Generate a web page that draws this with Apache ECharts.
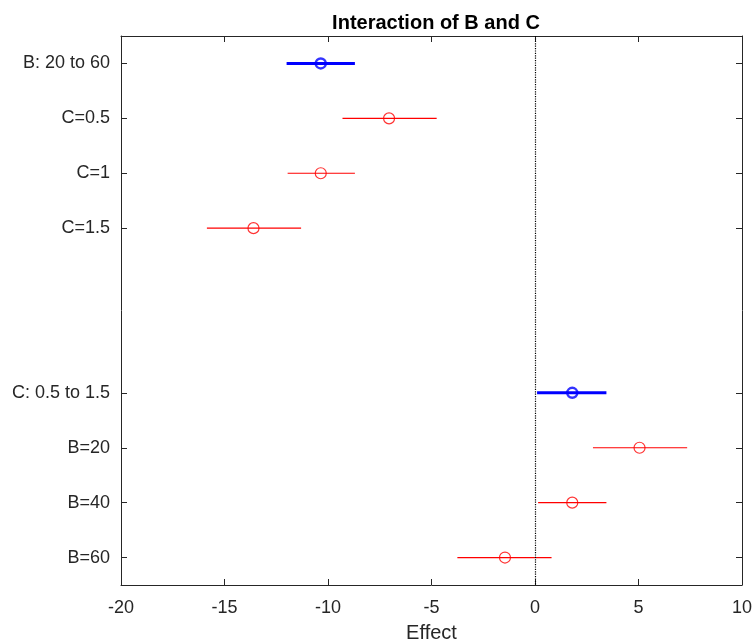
<!DOCTYPE html>
<html>
<head>
<meta charset="utf-8">
<script src="https://cdn.jsdelivr.net/npm/echarts@6/dist/echarts.min.js"></script>
<style>
  html, body { margin: 0; padding: 0; background: #fff; }
  #chart { width: 754px; height: 641px; }
</style>
</head>
<body>
<div id="chart"></div>
<script>
// Row labels, top to bottom (two blank spacer rows between the groups)
const rowLabels = ['B: 20 to 60', 'C=0.5', 'C=1', 'C=1.5', '', '', 'C: 0.5 to 1.5', 'B=20', 'B=40', 'B=60'];
// Row index of each estimate
const rowIndex = [0, 1, 2, 3, 6, 7, 8, 9];
// Point estimates of the effect
const effect = [-10.35, -7.05, -10.35, -13.6, 1.8, 5.05, 1.8, -1.45];
// Interval bounds
const lower = [-12.0, -9.3, -11.95, -15.85, 0.1, 2.8, 0.15, -3.75];
const upper = [-8.7, -4.75, -8.7, -11.3, 3.45, 7.35, 3.45, 0.8];
// Main effects (thick blue) vs. conditional effects (thin red)
const isMain = [true, false, false, false, true, false, false, false];

const xTicks = { min: -20, max: 10, interval: 5 };

const axisColor = '#262626';
const font = 'Liberation Sans, Arial, Helvetica, sans-serif';

const mainBars = [], condBars = [], mainPts = [], condPts = [];
rowIndex.forEach((r, i) => {
  const bar = [lower[i], upper[i], r];
  const pt = [effect[i], r];
  if (isMain[i]) { mainBars.push(bar); mainPts.push(pt); }
  else { condBars.push(bar); condPts.push(pt); }
});

function intervalRenderer(color, width) {
  return function (params, api) {
    const a = api.coord([api.value(0), api.value(2)]);
    const b = api.coord([api.value(1), api.value(2)]);
    return {
      type: 'line',
      shape: { x1: a[0], y1: a[1], x2: b[0], y2: b[1] },
      style: { stroke: color, lineWidth: width }
    };
  };
}

const tickFilter = (idx, val) => val !== '';

const chart = echarts.init(document.getElementById('chart'), null, { renderer: 'canvas' });
chart.setOption({
  animation: false,
  backgroundColor: '#ffffff',
  title: {
    text: 'Interaction of B and C',
    left: 431, top: 8, textAlign: 'center',
    textStyle: { fontFamily: font, fontSize: 20, fontWeight: 'bold', color: '#000' }
  },
  grid: { left: 121, right: 12, top: 36, bottom: 56, containLabel: false, outerBoundsMode: 'none' },
  xAxis: [{
    type: 'value', min: xTicks.min, max: xTicks.max, interval: xTicks.interval,
    name: 'Effect', nameLocation: 'middle', nameGap: 38,
    nameTextStyle: { fontFamily: font, fontSize: 20, color: axisColor },
    axisLine: { show: true, onZero: false, lineStyle: { color: axisColor, width: 1 } },
    axisTick: { show: true, inside: true, length: 6, lineStyle: { color: axisColor } },
    axisLabel: { fontFamily: font, fontSize: 18, color: axisColor, margin: 14 },
    splitLine: { show: false }
  }, {
    type: 'value', position: 'top', min: xTicks.min, max: xTicks.max, interval: xTicks.interval,
    axisLine: { show: true, onZero: false, lineStyle: { color: axisColor, width: 1 } },
    axisTick: { show: true, inside: true, length: 6, lineStyle: { color: axisColor } },
    axisLabel: { show: false }, splitLine: { show: false }
  }],
  yAxis: [{
    type: 'category', data: rowLabels, inverse: true,
    axisLine: { show: true, onZero: false, lineStyle: { color: axisColor, width: 1 } },
    axisTick: { show: true, inside: true, length: 6, alignWithLabel: true, interval: tickFilter, lineStyle: { color: axisColor } },
    axisLabel: { fontFamily: font, fontSize: 18, color: axisColor, margin: 11, interval: 0 },
    splitLine: { show: false }
  }, {
    type: 'category', data: rowLabels, inverse: true, position: 'right',
    axisLine: { show: true, onZero: false, lineStyle: { color: axisColor, width: 1 } },
    axisTick: { show: true, inside: true, length: 6, alignWithLabel: true, interval: tickFilter, lineStyle: { color: axisColor } },
    axisLabel: { show: false }, splitLine: { show: false }
  }],
  series: [
    {
      // zero-effect reference line
      type: 'line', data: [], silent: true,
      markLine: {
        symbol: 'none', silent: true, label: { show: false },
        lineStyle: { color: '#000', type: 'dotted', width: 1.2 },
        data: [{ xAxis: 0 }]
      }
    },
    { type: 'custom', renderItem: intervalRenderer('#ff0000', 1.2), data: condBars, z: 3 },
    { type: 'custom', renderItem: intervalRenderer('#0000ff', 3), data: mainBars, z: 3 },
    {
      type: 'scatter', data: condPts, symbol: 'circle', symbolSize: 11, z: 4,
      itemStyle: { color: 'rgba(255,255,255,0)', borderColor: '#ff0000', borderWidth: 1.2 }
    },
    {
      type: 'scatter', data: mainPts, symbol: 'circle', symbolSize: 10, z: 4,
      itemStyle: { color: 'rgba(255,255,255,0)', borderColor: '#0000ff', borderWidth: 2.5 }
    }
  ]
});
</script>
</body>
</html>
